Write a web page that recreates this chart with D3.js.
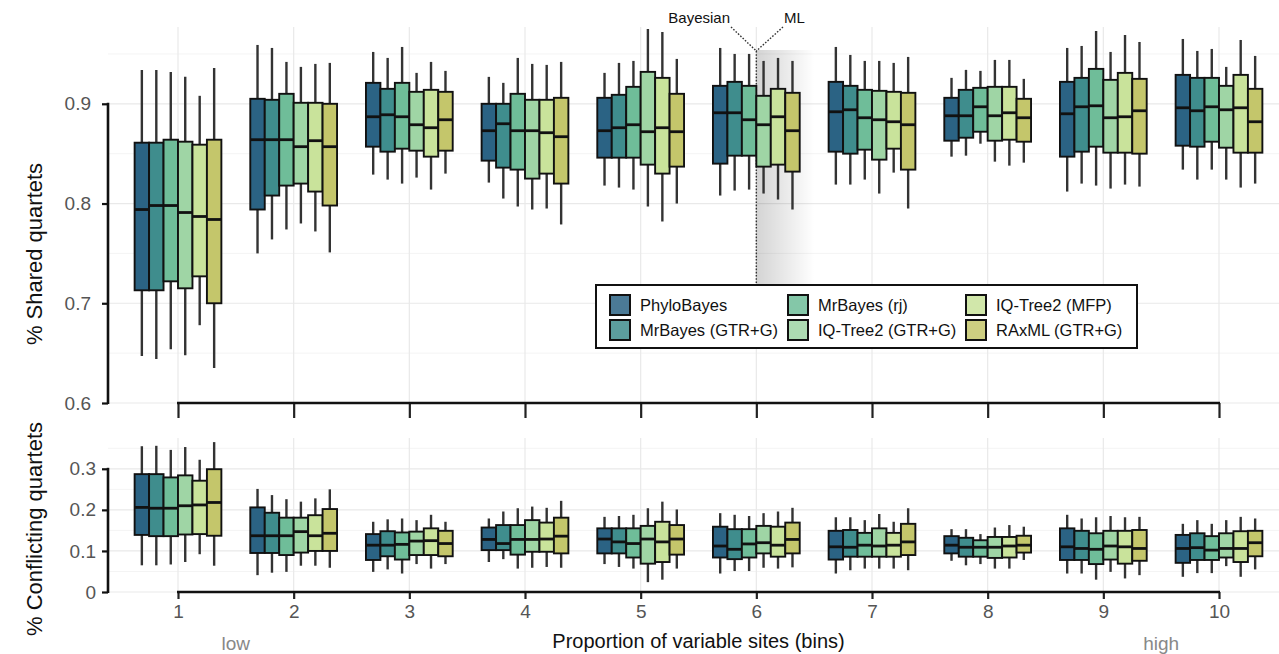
<!DOCTYPE html>
<html>
<head>
<meta charset="utf-8">
<script src="https://cdn.jsdelivr.net/npm/d3@7"></script>
<style>
body { margin: 0; background: #fff; }
svg { font-family: "Liberation Sans", Arial, sans-serif; }
</style>
</head>
<body>
<svg id="chart" width="1279" height="654"></svg>
<script>
var bins = [1, 2, 3, 4, 5, 6, 7, 8, 9, 10];
var methods = ["PhyloBayes", "MrBayes (GTR+G)", "MrBayes (rj)", "IQ-Tree2 (GTR+G)", "IQ-Tree2 (MFP)", "RAxML (GTR+G)"];
var methodColors = ["#2b6384", "#3f8d8d", "#6fbd99", "#9fd5a5", "#c9e39b", "#c4c66b"];
var sharedTicks = [0.6, 0.7, 0.8, 0.9];
var conflictTicks = [0, 0.1, 0.2, 0.3];

// per bin, per method: [low whisker, q1, median, q3, high whisker]
var sharedStats = [
	[[.647, .713, .794, .861, .934], [.644, .713, .798, .861, .934], [.654, .722, .798, .864, .932], [.648, .715, .791, .862, .927], [.678, .727, .787, .859, .908], [.635, .700, .784, .864, .936]],
	[[.750, .794, .864, .905, .959], [.764, .808, .864, .904, .956], [.774, .818, .864, .910, .942], [.780, .820, .857, .901, .937], [.772, .812, .863, .901, .940], [.751, .798, .857, .900, .941]],
	[[.829, .857, .887, .921, .952], [.824, .852, .889, .915, .946], [.820, .855, .887, .921, .957], [.826, .853, .879, .912, .931], [.814, .847, .876, .914, .942], [.830, .853, .884, .912, .933]],
	[[.821, .843, .873, .900, .927], [.805, .836, .880, .900, .921], [.797, .834, .873, .910, .946], [.794, .825, .873, .904, .940], [.795, .830, .871, .904, .939], [.779, .820, .867, .906, .942]],
	[[.818, .846, .873, .906, .931], [.816, .846, .876, .909, .941], [.814, .846, .879, .917, .943], [.797, .839, .872, .932, .975], [.782, .830, .876, .926, .972], [.800, .837, .872, .910, .945]],
	[[.808, .840, .891, .918, .956], [.813, .848, .891, .922, .950], [.814, .848, .884, .918, .950], [.810, .837, .879, .908, .943], [.804, .839, .887, .915, .946], [.794, .832, .873, .911, .943]],
	[[.819, .852, .892, .922, .957], [.819, .850, .894, .918, .949], [.824, .854, .886, .914, .943], [.810, .844, .884, .913, .943], [.831, .855, .882, .912, .941], [.795, .834, .879, .911, .947]],
	[[.847, .863, .888, .906, .926], [.848, .866, .888, .914, .934], [.860, .872, .897, .916, .933], [.842, .863, .888, .917, .944], [.838, .864, .891, .917, .944], [.841, .862, .886, .905, .925]],
	[[.812, .847, .890, .922, .956], [.820, .852, .897, .926, .958], [.818, .857, .898, .935, .973], [.815, .851, .886, .924, .952], [.819, .851, .887, .931, .969], [.817, .850, .893, .925, .962]],
	[[.834, .858, .896, .929, .965], [.824, .857, .893, .926, .953], [.834, .862, .897, .926, .955], [.824, .856, .894, .918, .937], [.816, .851, .896, .929, .964], [.820, .851, .882, .915, .948]]
];

var conflictStats = [
	[[.065, .139, .206, .287, .355], [.065, .136, .204, .287, .356], [.067, .136, .204, .279, .346], [.073, .140, .210, .284, .353], [.092, .141, .212, .271, .322], [.064, .137, .218, .299, .365]],
	[[.041, .095, .137, .206, .251], [.047, .095, .137, .193, .236], [.049, .090, .137, .181, .226], [.064, .096, .147, .181, .220], [.064, .100, .137, .187, .228], [.059, .100, .143, .202, .250]],
	[[.049, .078, .114, .141, .171], [.055, .087, .114, .148, .177], [.045, .079, .116, .145, .179], [.068, .090, .124, .147, .175], [.057, .090, .125, .155, .188], [.068, .087, .118, .149, .171]],
	[[.073, .102, .128, .157, .179], [.080, .102, .118, .163, .196], [.057, .091, .128, .163, .204], [.059, .098, .128, .175, .208], [.061, .098, .129, .169, .205], [.059, .094, .136, .181, .222]],
	[[.068, .094, .129, .155, .183], [.061, .094, .122, .155, .185], [.057, .084, .118, .155, .188], [.024, .069, .129, .161, .204], [.030, .073, .122, .171, .220], [.057, .091, .129, .163, .201]],
	[[.045, .084, .112, .159, .192], [.051, .080, .104, .153, .188], [.051, .084, .117, .153, .185], [.059, .094, .120, .161, .192], [.057, .086, .114, .159, .196], [.060, .094, .128, .169, .205]],
	[[.045, .079, .110, .149, .182], [.053, .086, .109, .151, .182], [.057, .086, .114, .144, .175], [.057, .086, .112, .155, .190], [.057, .086, .114, .144, .171], [.053, .090, .122, .166, .204]],
	[[.076, .094, .114, .136, .153], [.065, .086, .109, .132, .153], [.068, .086, .109, .126, .141], [.057, .083, .109, .134, .157], [.057, .084, .112, .134, .163], [.078, .096, .114, .137, .159]],
	[[.045, .078, .110, .155, .188], [.045, .078, .106, .149, .179], [.030, .068, .104, .143, .182], [.049, .079, .112, .149, .185], [.033, .069, .110, .149, .182], [.041, .076, .106, .151, .183]],
	[[.037, .071, .106, .139, .166], [.046, .078, .108, .143, .175], [.046, .078, .102, .136, .166], [.063, .084, .106, .143, .175], [.037, .073, .106, .148, .183], [.055, .087, .120, .149, .179]]
];

var PANEL_LEFT = 108;
var PANEL_RIGHT = 1279;

var svg = d3.select("#chart");

var x = d3.scaleLinear().domain([1, 10]).range([178, 1219]);
var binStep = x(2) - x(1);
var dodge = d3.scaleBand().domain(methods).range([-0.375 * binStep, 0.375 * binStep]);
var color = d3.scaleOrdinal().domain(methods).range(methodColors);

var yTop = d3.scaleLinear().domain([0.6, 0.977]).range([403, 27]);
var yBot = d3.scaleLinear().domain([0, 0.375]).range([592, 438]);

function drawGrid(y, step) {
	var g = svg.append("g");
	var lo = y.domain()[0], hi = y.domain()[1];
	var vals = d3.range(lo, hi + 1e-9, step / 2);
	g.selectAll(".hgrid").data(vals).enter().append("line")
		.attr("x1", PANEL_LEFT).attr("x2", PANEL_RIGHT)
		.attr("y1", function(d) { return y(d); }).attr("y2", function(d) { return y(d); })
		.attr("stroke", function(d, i) { return i % 2 == 0 ? "#e9e9e9" : "#f1f1f1"; })
		.attr("stroke-width", function(d, i) { return i % 2 == 0 ? 1.2 : 0.8; });
	g.selectAll(".vgrid").data(bins).enter().append("line")
		.attr("x1", function(d) { return x(d); }).attr("x2", function(d) { return x(d); })
		.attr("y1", y.range()[1]).attr("y2", y.range()[0])
		.attr("stroke", "#e9e9e9").attr("stroke-width", 1.2);
}

function drawBoxes(stats, y) {
	var g = svg.append("g");
	bins.forEach(function(b, i) {
		methods.forEach(function(m, j) {
			var s = stats[i][j];
			var bx = x(b) + dodge(m);
			var cx = bx + dodge.bandwidth() / 2;
			g.append("line")
				.attr("x1", cx).attr("x2", cx)
				.attr("y1", y(s[0])).attr("y2", y(s[4]))
				.attr("stroke", "#333").attr("stroke-width", 2.4);
			g.append("rect")
				.attr("x", bx).attr("width", dodge.bandwidth())
				.attr("y", y(s[3])).attr("height", y(s[1]) - y(s[3]))
				.attr("fill", color(m)).attr("stroke", "#111").attr("stroke-width", 1.9);
			g.append("line")
				.attr("x1", bx).attr("x2", bx + dodge.bandwidth())
				.attr("y1", y(s[2])).attr("y2", y(s[2]))
				.attr("stroke", "#111").attr("stroke-width", 2.8);
		});
	});
}

function drawYAxis(y, ticks, fmt, labelRight) {
	var g = svg.append("g").attr("transform", "translate(" + PANEL_LEFT + ",0)");
	g.call(d3.axisLeft(y).tickValues(ticks).tickSize(6).tickFormat(fmt));
	g.select(".domain").remove();
	g.selectAll(".tick line").attr("stroke", "#111").attr("stroke-width", 2.2);
	g.selectAll(".tick text").attr("x", labelRight - PANEL_LEFT)
		.attr("fill", "#555").attr("font-size", 19).attr("font-family", null);
	g.append("line")
		.attr("x1", 0).attr("x2", 0)
		.attr("y1", y(ticks[0]) + 1).attr("y2", y(ticks[ticks.length - 1]) - 1)
		.attr("stroke", "#111").attr("stroke-width", 2.6);
}

function drawXAxis(y0, tickLen, showLabels) {
	var g = svg.append("g").attr("transform", "translate(0," + y0 + ")");
	g.call(d3.axisBottom(x).tickValues(bins).tickSize(tickLen).tickFormat(showLabels ? d3.format("d") : ""));
	g.select(".domain").remove();
	g.selectAll(".tick line").attr("stroke", "#222").attr("stroke-width", 2.2);
	g.selectAll(".tick text").attr("fill", "#555").attr("font-size", 19).attr("font-family", null).attr("dy", "0.85em");
	g.append("line")
		.attr("x1", x(1) - 1).attr("x2", x(10) + 1)
		.attr("y1", 0).attr("y2", 0)
		.attr("stroke", "#111").attr("stroke-width", 2.6);
}

// grids
drawGrid(yTop, 0.1);
drawGrid(yBot, 0.1);

// Bayesian / ML divider at bin 6
var divX = x(6);
var defs = svg.append("defs");
var grad = defs.append("linearGradient").attr("id", "mlshade").attr("x1", 0).attr("x2", 1).attr("y1", 0).attr("y2", 0);
grad.append("stop").attr("offset", 0).attr("stop-color", "#000").attr("stop-opacity", 0.17);
grad.append("stop").attr("offset", 1).attr("stop-color", "#000").attr("stop-opacity", 0);
svg.append("rect").attr("x", divX).attr("y", 50).attr("width", 58).attr("height", 236).attr("fill", "url(#mlshade)");

var ann = svg.append("g").attr("stroke", "#333").attr("stroke-width", 1.4).attr("stroke-dasharray", "1.6,1.6").attr("fill", "none");
ann.append("line").attr("x1", divX).attr("x2", divX).attr("y1", 51).attr("y2", 286);
ann.append("line").attr("x1", 731).attr("y1", 27).attr("x2", divX).attr("y2", 51);
ann.append("line").attr("x1", 783).attr("y1", 27).attr("x2", divX).attr("y2", 51);
svg.append("text").attr("x", 730).attr("y", 23).attr("text-anchor", "end")
	.attr("font-size", 15).attr("fill", "#111").text("Bayesian");
svg.append("text").attr("x", 784).attr("y", 23)
	.attr("font-size", 15).attr("fill", "#111").text("ML");

drawBoxes(sharedStats, yTop);
drawBoxes(conflictStats, yBot);

drawYAxis(yTop, sharedTicks, d3.format(".1f"), 91);
drawYAxis(yBot, conflictTicks, function(d) { return d == 0 ? "0" : d3.format(".1f")(d); }, 96);
drawXAxis(403, 15, false);
drawXAxis(592, 7, true);

// axis titles
svg.append("text").attr("transform", "translate(42,254) rotate(-90)").attr("text-anchor", "middle")
	.attr("font-size", 22).attr("fill", "#111").text("% Shared quartets");
svg.append("text").attr("transform", "translate(42,529) rotate(-90)").attr("text-anchor", "middle")
	.attr("font-size", 22).attr("fill", "#111").text("% Conflicting quartets");
svg.append("text").attr("x", (x(1) + x(10)) / 2).attr("y", 648).attr("text-anchor", "middle")
	.attr("font-size", 20).attr("fill", "#111").text("Proportion of variable sites (bins)");
svg.append("text").attr("x", x(1.5)).attr("y", 650).attr("text-anchor", "middle")
	.attr("font-size", 19).attr("fill", "#888").text("low");
svg.append("text").attr("x", x(9.5)).attr("y", 650).attr("text-anchor", "middle")
	.attr("font-size", 19).attr("fill", "#888").text("high");

// legend
var legend = svg.append("g").attr("transform", "translate(596,285)");
legend.append("rect").attr("width", 541).attr("height", 63)
	.attr("fill", "#fff").attr("stroke", "#111").attr("stroke-width", 2);
var colX = [14, 192, 370];
var rowY = [10, 35];
methods.forEach(function(m, i) {
	var col = Math.floor(i / 2), row = i % 2;
	var item = legend.append("g").attr("transform", "translate(" + colX[col] + "," + rowY[row] + ")");
	item.append("rect").attr("width", 20).attr("height", 20)
		.attr("fill", color(m)).attr("fill-opacity", 0.85).attr("stroke", "#111").attr("stroke-width", 2);
	item.append("text").attr("x", 30).attr("y", 16).attr("font-size", 16.5).attr("fill", "#111").text(m);
});
</script>
</body>
</html>
